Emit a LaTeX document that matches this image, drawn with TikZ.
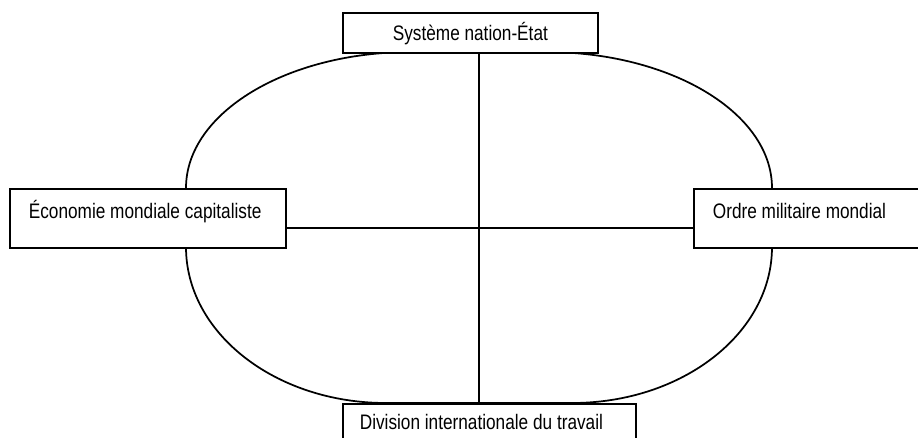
\documentclass[tikz,border=0pt]{standalone}
\usepackage{fontspec}
\setmainfont{Liberation Sans}[FakeStretch=0.82]
\begin{document}
\begin{tikzpicture}[x=0.75pt,y=-0.75pt,
  line width=1.3pt,
  font=\fontsize{15.75pt}{18pt}\selectfont,
  box/.style={draw=black, fill=white, inner ysep=0pt, anchor=north west},
  sidebox/.style={box, inner xsep=14.25pt, text height=22.5pt, text depth=21.75pt}]
\useasboundingbox (0,0) rectangle (918,437);
\clip (0,0) rectangle (918,437);
\fill[white] (0,0) rectangle (918,437);
% rounded oval
\draw (186,247) -- (186,188)
  .. controls (186,112.9) and (286.7,52) .. (411,52)
  -- (546,52)
  .. controls (670.8,52) and (772,112.9) .. (772,188)
  -- (772,247)
  .. controls (772,333.2) and (682.5,403) .. (572,403)
  -- (386,403)
  .. controls (275.5,403) and (186,333.2) .. (186,247) -- cycle;
% boxes
\node[box, inner xsep=0pt, text height=21pt, text depth=9pt] (top) at (342,12)
  {\makebox[191.25pt][c]{Système nation-État}};
\node[sidebox] (left) at (9,188)
  {\makebox[178.5pt][l]{Économie mondiale capitaliste}};
\node[sidebox] (right) at (693,188)
  {\makebox[178.5pt][l]{Ordre militaire mondial}};
\node[box, inner xsep=12.75pt, text height=19.5pt, text depth=10.5pt] (bot) at (342,403)
  {\makebox[194.25pt][l]{Division internationale du travail}};
% cross
\coordinate (cx) at (479,228);
\draw (top.south -| cx) -- (bot.north -| cx);
\draw (left.east |- cx) -- (right.west |- cx);
\end{tikzpicture}
\end{document}
